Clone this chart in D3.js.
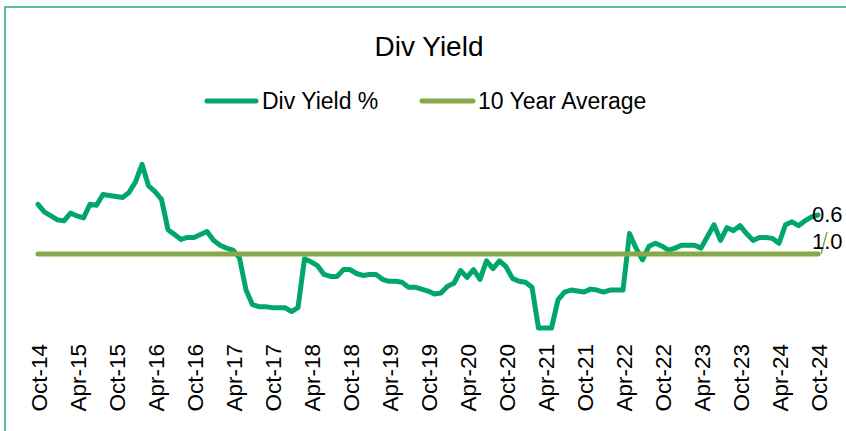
<!DOCTYPE html>
<html>
<head>
<meta charset="utf-8">
<script src="https://cdn.jsdelivr.net/npm/d3@7"></script>
<style>
  body { margin: 0; background: #fff; }
  svg { display: block; font-family: "Liberation Sans", Arial, sans-serif; }
</style>
</head>
<body>
<svg id="chart" width="846" height="431"></svg>
<script>
// Monthly dividend yield, Oct-14 .. Oct-24 (121 months)
const divYield = [
  0.49, 0.57, 0.61, 0.65, 0.66, 0.58, 0.61, 0.63, 0.49, 0.50,
  0.39, 0.40, 0.41, 0.42, 0.37, 0.26, 0.08, 0.30, 0.36, 0.44,
  0.75, 0.80, 0.85, 0.83, 0.83, 0.80, 0.77, 0.86, 0.91, 0.94,
  0.96, 1.04, 1.37, 1.52, 1.54, 1.54, 1.55, 1.55, 1.55, 1.59,
  1.55, 1.05, 1.08, 1.12, 1.21, 1.23, 1.23, 1.16, 1.16, 1.20,
  1.22, 1.21, 1.21, 1.26, 1.28, 1.28, 1.29, 1.34, 1.34, 1.36,
  1.38, 1.41, 1.40, 1.33, 1.30, 1.17, 1.24, 1.16, 1.26, 1.07,
  1.15, 1.07, 1.13, 1.25, 1.28, 1.29, 1.34, 1.76, 1.76, 1.76,
  1.47, 1.39, 1.37, 1.38, 1.39, 1.36, 1.37, 1.39, 1.37, 1.37,
  1.37, 0.79, 0.94, 1.06, 0.92, 0.89, 0.92, 0.96, 0.94, 0.91,
  0.91, 0.91, 0.94, 0.82, 0.70, 0.86, 0.73, 0.76, 0.71, 0.79,
  0.86, 0.83, 0.83, 0.84, 0.89, 0.70, 0.67, 0.71, 0.66, 0.62,
  0.60
];
const tenYearAverage = 1.0;
const tickLabels = [
  "Oct-14", "Apr-15", "Oct-15", "Apr-16", "Oct-16", "Apr-17", "Oct-17",
  "Apr-18", "Oct-18", "Apr-19", "Oct-19", "Apr-20", "Oct-20", "Apr-21",
  "Oct-21", "Apr-22", "Oct-22", "Apr-23", "Oct-23", "Apr-24", "Oct-24"
];
const seriesNames = ["Div Yield %", "10 Year Average"];

const MAIN = "#00a66a";
const AVG = "#86a84a";

const svg = d3.select("#chart");

// frame (only top and left edges visible in the picture)
svg.append("rect")
  .attr("x", 5).attr("y", 7)
  .attr("width", 1000).attr("height", 600)
  .attr("fill", "none")
  .attr("stroke", "#2aaa78")
  .attr("stroke-width", 1.5);

const n = divYield.length;
const x = d3.scaleLinear().domain([0, n - 1]).range([38, 818]);
// reversed value axis: higher yield sits lower
const y = d3.scaleLinear().domain([0, 2]).range([156.5, 351.5]);

// title
svg.append("text")
  .attr("x", 429).attr("y", 56)
  .attr("text-anchor", "middle")
  .style("font-size", "28px")
  .text("Div Yield");

// legend
const legend = [
  { name: seriesNames[0], color: MAIN, x1: 207, x2: 256, tx: 262 },
  { name: seriesNames[1], color: AVG, x1: 422, x2: 473, tx: 478 }
];
legend.forEach(l => {
  svg.append("line")
    .attr("x1", l.x1).attr("x2", l.x2)
    .attr("y1", 101).attr("y2", 101)
    .attr("stroke", l.color)
    .attr("stroke-width", 5)
    .attr("stroke-linecap", "round");
  svg.append("text")
    .attr("x", l.tx).attr("y", 109)
    .style("font-size", "23px")
    .text(l.name);
});

// div yield line
const line = d3.line()
  .x((d, i) => x(i))
  .y(d => y(d));

svg.append("path")
  .datum(divYield)
  .attr("d", line)
  .attr("fill", "none")
  .attr("stroke", MAIN)
  .attr("stroke-width", 5)
  .attr("stroke-linejoin", "round")
  .attr("stroke-linecap", "round");

// 10 year average on top
svg.append("path")
  .datum(divYield.map(() => tenYearAverage))
  .attr("d", line)
  .attr("fill", "none")
  .attr("stroke", AVG)
  .attr("stroke-width", 5)
  .attr("stroke-linecap", "round");

// data labels on the last points
const last = n - 1;
svg.append("text")
  .attr("x", x(last) - 6).attr("y", y(divYield[last]) + 7)
  .style("font-size", "22px")
  .text(d3.format(".1f")(divYield[last]));

svg.append("line")
  .attr("x1", x(last) + 3).attr("y1", y(tenYearAverage))
  .attr("x2", x(last) + 9).attr("y2", y(tenYearAverage) - 22)
  .attr("stroke", AVG)
  .attr("stroke-width", 1.5);

svg.append("text")
  .attr("x", x(last) - 6).attr("y", y(tenYearAverage) - 5)
  .style("font-size", "22px")
  .text(d3.format(".1f")(tenYearAverage));

// category axis, labels rotated
const tickIdx = tickLabels.map((_, i) => i * 6);
const axis = d3.axisBottom(x)
  .tickValues(tickIdx)
  .tickFormat((d, i) => tickLabels[i])
  .tickSize(0);

const gx = svg.append("g")
  .attr("transform", "translate(0,340)")
  .call(axis);
gx.select(".domain").remove();
gx.selectAll("text")
  .attr("fill", "#000")
  .style("font-size", "22.5px")
  .style("font-family", "'Liberation Sans', Arial, sans-serif")
  .attr("text-anchor", "end")
  .attr("dy", null)
  .attr("y", 0)
  .attr("transform", "translate(8,4) rotate(-90)");
</script>
</body>
</html>
